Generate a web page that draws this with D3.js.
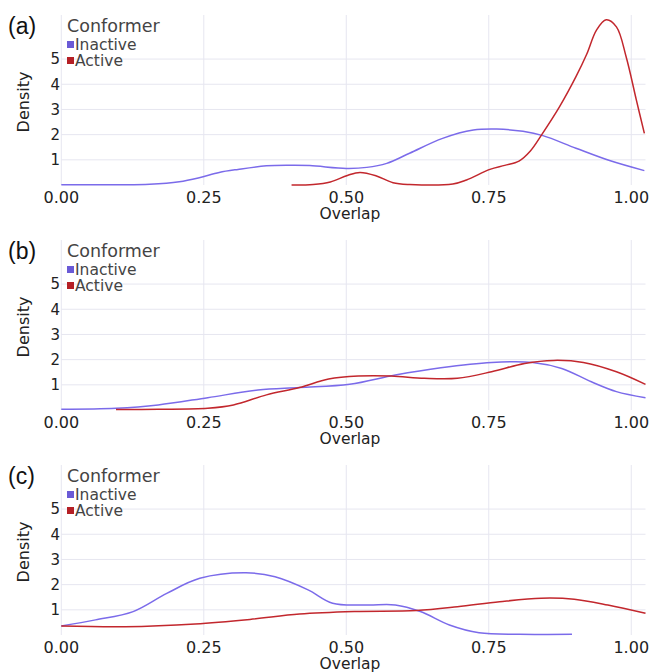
<!DOCTYPE html>
<html><head><meta charset="utf-8">
<script src="https://cdn.jsdelivr.net/npm/d3@7"></script>
<style>body{margin:0;background:#fff}svg{display:block}</style>
</head><body>
<script>
// ---- data ----
const panelLabels = ["(a)", "(b)", "(c)"];
const seriesNames = ["Inactive", "Active"];
const seriesColors = ["#7b6bea", "#c2272d"];
const legendColors = ["#6a5ad6", "#b51f25"];
const xTicks = [0, 0.25, 0.5, 0.75, 1.0];
const xTickLabels = ["0.00", "0.25", "0.50", "0.75", "1.00"];
const yTicks = [1, 2, 3, 4, 5];
const yTickLabels = ["1", "2", "3", "4", "5"];

// panel (a)
const aInactiveX = [0, 0.101, 0.155, 0.207, 0.242, 0.277, 0.31, 0.36, 0.402, 0.436, 0.500, 0.536, 0.571, 0.611, 0.669, 0.723, 0.764, 0.810, 0.845, 0.903, 0.962, 1.023];
const aInactiveY = [0.01, 0.01, 0.03, 0.13, 0.29, 0.50, 0.62, 0.76, 0.78, 0.77, 0.66, 0.70, 0.86, 1.26, 1.85, 2.18, 2.22, 2.13, 1.96, 1.46, 0.97, 0.57];
const aActiveX = [0.404, 0.442, 0.472, 0.502, 0.524, 0.553, 0.582, 0.611, 0.687, 0.711, 0.752, 0.778, 0.803, 0.823, 0.843, 0.874, 0.903, 0.922, 0.939, 0.956, 0.974, 0.991, 1.009, 1.023];
const aActiveY = [0.0, 0.02, 0.12, 0.38, 0.50, 0.36, 0.09, 0.02, 0.04, 0.20, 0.62, 0.78, 0.95, 1.35, 2.00, 3.10, 4.30, 5.20, 6.15, 6.56, 6.28, 5.09, 3.37, 2.05];

// panel (b)
const bInactiveX = [0, 0.096, 0.170, 0.257, 0.345, 0.418, 0.506, 0.586, 0.666, 0.755, 0.827, 0.878, 0.930, 0.974, 1.025];
const bInactiveY = [0.03, 0.07, 0.20, 0.49, 0.79, 0.89, 1.02, 1.39, 1.68, 1.89, 1.89, 1.65, 1.12, 0.73, 0.49];
const bActiveX = [0.096, 0.170, 0.257, 0.302, 0.360, 0.418, 0.469, 0.521, 0.579, 0.637, 0.695, 0.755, 0.813, 0.864, 0.916, 0.974, 1.025];
const bActiveY = [0.02, 0.03, 0.07, 0.20, 0.60, 0.89, 1.23, 1.35, 1.35, 1.26, 1.26, 1.52, 1.85, 1.97, 1.89, 1.52, 1.02];

// panel (c)
const cInactiveX = [0, 0.060, 0.126, 0.185, 0.243, 0.324, 0.375, 0.433, 0.476, 0.536, 0.586, 0.630, 0.681, 0.733, 0.804, 0.896];
const cInactiveY = [0.36, 0.60, 0.93, 1.65, 2.25, 2.47, 2.31, 1.79, 1.26, 1.19, 1.19, 0.93, 0.40, 0.09, 0.03, 0.03];
const cActiveX = [0, 0.112, 0.235, 0.331, 0.418, 0.514, 0.623, 0.695, 0.769, 0.842, 0.900, 0.959, 1.025];
const cActiveY = [0.36, 0.33, 0.44, 0.62, 0.83, 0.93, 0.97, 1.12, 1.32, 1.46, 1.42, 1.19, 0.86];

const panelData = [
  [[aInactiveX, aInactiveY], [aActiveX, aActiveY]],
  [[bInactiveX, bInactiveY], [bActiveX, bActiveY]],
  [[cInactiveX, cInactiveY], [cActiveX, cActiveY]]
];

// ---- layout ----
const W = 651, H = 672;
const svg = d3.select("body").append("svg").attr("width", W).attr("height", H);
const font = "'DejaVu Sans', sans-serif";
const x = d3.scaleLinear().domain([0, 1.025]).range([61.3, 645.5]);
const y = d3.scaleLinear().domain([0, 6.75]).range([185, 15]);
const panelStep = 225;

svg.append("defs").append("clipPath").attr("id", "clip")
  .append("rect").attr("x", 61).attr("y", 0).attr("width", 651 - 61).attr("height", 200);

panelData.forEach((series, p) => {
  const g = svg.append("g").attr("transform", `translate(0,${p * panelStep})`);

  // gridlines
  g.append("g").selectAll("line").data(xTicks).join("line")
    .attr("x1", d => x(d)).attr("x2", d => x(d))
    .attr("y1", y.range()[1]).attr("y2", y.range()[0])
    .attr("stroke", "#e6e6f0").attr("stroke-width", 1);
  g.append("g").selectAll("line").data(yTicks).join("line")
    .attr("x1", x.range()[0]).attr("x2", x.range()[1])
    .attr("y1", d => y(d)).attr("y2", d => y(d))
    .attr("stroke", "#e6e6f0").attr("stroke-width", 1);

  // y tick labels
  g.append("g").selectAll("text").data(yTicks).join("text")
    .attr("x", 60).attr("y", d => y(d)).attr("dy", "0.36em")
    .attr("text-anchor", "end").attr("font-family", font).attr("font-size", 15)
    .attr("fill", "#222").text((d, i) => yTickLabels[i]);

  // x tick labels
  g.append("g").selectAll("text").data(xTicks).join("text")
    .attr("x", d => x(d)).attr("y", 202.7)
    .attr("text-anchor", "middle").attr("font-family", font).attr("font-size", 16)
    .attr("fill", "#222").text((d, i) => xTickLabels[i]);

  // axis titles
  g.append("text").attr("x", 350).attr("y", 219.3)
    .attr("text-anchor", "middle").attr("font-family", font).attr("font-size", 15.5)
    .attr("fill", "#222").text("Overlap");
  g.append("text").attr("transform", `translate(28.5,102) rotate(-90)`)
    .attr("text-anchor", "middle").attr("font-family", font).attr("font-size", 16)
    .attr("fill", "#222").text("Density");

  // panel label
  g.append("text").attr("x", 8).attr("y", 34)
    .attr("font-family", "'Liberation Sans', Arial, sans-serif").attr("font-size", 23)
    .attr("fill", "#111").text(panelLabels[p]);

  // curves
  const line = d3.line().x(d => x(d[0])).y(d => y(d[1])).curve(d3.curveCatmullRom.alpha(0.5));
  const cg = g.append("g").attr("clip-path", "url(#clip)");
  series.forEach((s, i) => {
    const pts = s[0].map((v, k) => [v, s[1][k]]);
    cg.append("path").datum(pts).attr("d", line)
      .attr("fill", "none").attr("stroke", seriesColors[i]).attr("stroke-width", 1.5);
  });

  // legend
  g.append("text").attr("x", 67).attr("y", 32).attr("font-family", font)
    .attr("font-size", 17.5).attr("fill", "#444").text("Conformer");
  seriesNames.forEach((n, i) => {
    g.append("rect").attr("x", 67).attr("y", 41 + i * 16).attr("width", 7).attr("height", 7)
      .attr("fill", legendColors[i]);
    g.append("text").attr("x", 75).attr("y", 50 + i * 16).attr("font-family", font)
      .attr("font-size", 15.5).attr("fill", "#444").text(n);
  });
});
</script>
</body></html>
